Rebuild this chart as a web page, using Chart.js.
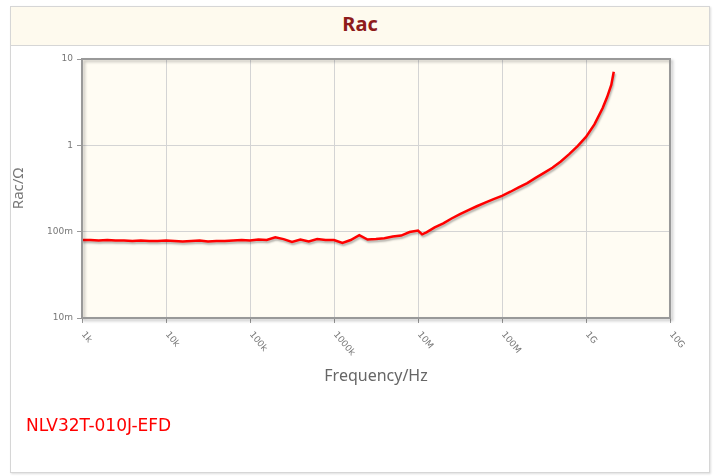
<!DOCTYPE html>
<html>
<head>
<meta charset="utf-8">
<script src="https://cdn.jsdelivr.net/npm/chart.js@4"></script>
<style>
  body { margin: 0; background: #fff; font-family: "DejaVu Sans", sans-serif; }
  #panel { position: absolute; left: 10px; top: 6px; width: 698px; height: 465px; border: 1px solid #d6d6d6; box-shadow: 1px 1px 2px #ddd; }
  #head { height: 38px; background: #fefaee; border-bottom: 1px solid #d6d6d6; text-align: center; line-height: 34px; font-family: "Noto Sans", sans-serif; font-weight: bold; font-size: 20px; color: #8e1b1b; }
  #part { position: absolute; left: 26px; top: 415px; color: #f00; font-size: 17px; font-family: "DejaVu Sans", sans-serif; }
  canvas { position: absolute; left: 0; top: 0; }
</style>
</head>
<body>
<div id="panel"><div id="head">Rac</div></div>
<canvas id="racChart" width="717" height="476"></canvas>
<div id="part">NLV32T-010J-EFD</div>
<script>
// frequency in Hz, Rac in ohm
const freq = [
  1.00e3, 1.26e3, 1.58e3, 2.00e3, 2.51e3, 3.16e3, 3.98e3, 5.01e3, 6.31e3, 7.94e3,
  1.00e4, 1.26e4, 1.58e4, 2.00e4, 2.51e4, 3.16e4, 3.98e4, 5.01e4, 6.31e4, 7.94e4,
  1.00e5, 1.26e5, 1.58e5, 2.00e5, 2.51e5, 3.16e5, 3.98e5, 5.01e5, 6.31e5, 7.94e5,
  1.00e6, 1.26e6, 1.58e6, 2.00e6, 2.51e6, 3.16e6, 3.98e6, 5.01e6, 6.31e6, 7.94e6,
  1.00e7, 1.12e7, 1.26e7, 1.58e7, 2.00e7, 2.51e7, 3.16e7, 3.98e7, 5.01e7, 6.31e7, 7.94e7,
  1.00e8, 1.26e8, 1.58e8, 2.00e8, 2.51e8, 3.16e8, 3.98e8, 5.01e8, 6.31e8, 7.94e8,
  1.00e9, 1.26e9, 1.58e9, 1.78e9, 2.00e9, 2.14e9
];
const rac = [
  0.080, 0.080, 0.079, 0.080, 0.079, 0.079, 0.078, 0.079, 0.078, 0.078,
  0.079, 0.078, 0.077, 0.078, 0.079, 0.077, 0.078, 0.078, 0.079, 0.080,
  0.079, 0.081, 0.080, 0.086, 0.082, 0.076, 0.081, 0.077, 0.082, 0.080,
  0.080, 0.074, 0.080, 0.091, 0.081, 0.082, 0.084, 0.088, 0.090, 0.099,
  0.103, 0.093, 0.098, 0.112, 0.125, 0.142, 0.160, 0.178, 0.197, 0.217, 0.238,
  0.260, 0.290, 0.325, 0.365, 0.420, 0.480, 0.550, 0.650, 0.790, 0.980,
  1.25, 1.75, 2.70, 3.60, 5.00, 7.10
];
const xTicks = [1e3, 1e4, 1e5, 1e6, 1e7, 1e8, 1e9, 1e10];
const xLabels = ['1k', '10k', '100k', '1000k', '10M', '100M', '1G', '10G'];
const yTicks = [0.01, 0.1, 1, 10];
const yLabels = ['10m', '100m', '1', '10'];

const points = freq.map((f, i) => ({ x: f, y: rac[i] }));

// cream plot background, shadowed curve, framed border, slanted x labels
const plotFrame = {
  id: 'plotFrame',
  beforeDraw(chart) {
    const a = chart.chartArea, c = chart.ctx;
    c.save();
    c.fillStyle = '#fffcf3';
    c.fillRect(a.left, a.top, a.right - a.left, a.bottom - a.top);
    c.restore();
  },
  beforeDatasetsDraw(chart) {
    const c = chart.ctx;
    c.save();
    c.shadowColor = 'rgba(0,0,0,0.3)';
    c.shadowOffsetX = 1;
    c.shadowOffsetY = 2;
    c.shadowBlur = 2;
  },
  afterDatasetsDraw(chart) {
    const a = chart.chartArea, c = chart.ctx;
    c.restore();
    c.save();
    c.shadowColor = 'rgba(0,0,0,0.25)';
    c.shadowOffsetX = 2;
    c.shadowOffsetY = 2;
    c.shadowBlur = 3;
    c.strokeStyle = '#999';
    c.lineWidth = 2;
    c.strokeRect(a.left, a.top, a.right - a.left, a.bottom - a.top);
    c.restore();
  },
  afterDraw(chart) {
    const sx = chart.scales.x, c = chart.ctx;
    c.save();
    c.font = '9px "DejaVu Sans"';
    c.fillStyle = '#777';
    c.textAlign = 'left';
    c.textBaseline = 'middle';
    xTicks.forEach((v, i) => {
      c.save();
      c.translate(sx.getPixelForValue(v) + 1, chart.chartArea.bottom + 15);
      c.rotate(50 * Math.PI / 180);
      c.fillText(xLabels[i], 0, 0);
      c.restore();
    });
    c.restore();
  }
};

const ctx = document.getElementById('racChart').getContext('2d');
const racChart = new Chart(ctx, {
  type: 'line',
  data: {
    datasets: [{
      label: 'Rac',
      data: points,
      borderColor: '#ff0000',
      borderWidth: 2.5,
      pointRadius: 0,
      tension: 0,
      fill: false
    }]
  },
  options: {
    responsive: false,
    animation: false,
    layout: { padding: { left: 10, top: 59, right: 47, bottom: 90 } },
    plugins: {
      legend: { display: false },
      tooltip: { enabled: false }
    },
    scales: {
      x: {
        type: 'logarithmic',
        min: 1e3,
        max: 1e10,
        afterBuildTicks: (s) => { s.ticks = xTicks.map(v => ({ value: v })); },
        afterFit: (s) => { s.height = 68; },
        grid: { color: '#d4d4d4', tickLength: 5, tickColor: '#999' },
        border: { display: false },
        ticks: { display: false },
        title: {
          display: true,
          text: 'Frequency/Hz',
          color: '#666',
          font: { family: 'Noto Sans', size: 16 },
          padding: { top: 0, bottom: 0 }
        }
      },
      y: {
        type: 'logarithmic',
        min: 0.01,
        max: 10,
        afterBuildTicks: (s) => { s.ticks = yTicks.map(v => ({ value: v })); },
        afterFit: (s) => { s.width = 72; },
        grid: { color: '#d4d4d4', tickLength: 5, tickColor: '#999' },
        border: { display: false },
        ticks: {
          color: '#777',
          font: { family: 'DejaVu Sans', size: 9 },
          padding: 4,
          callback: (v) => yLabels[yTicks.indexOf(v)]
        },
        title: {
          display: true,
          text: 'Rac/Ω',
          color: '#777',
          font: { family: 'Noto Sans', size: 15 },
          padding: { top: 0, bottom: 0 }
        }
      }
    }
  },
  plugins: [plotFrame]
});
</script>
</body>
</html>
